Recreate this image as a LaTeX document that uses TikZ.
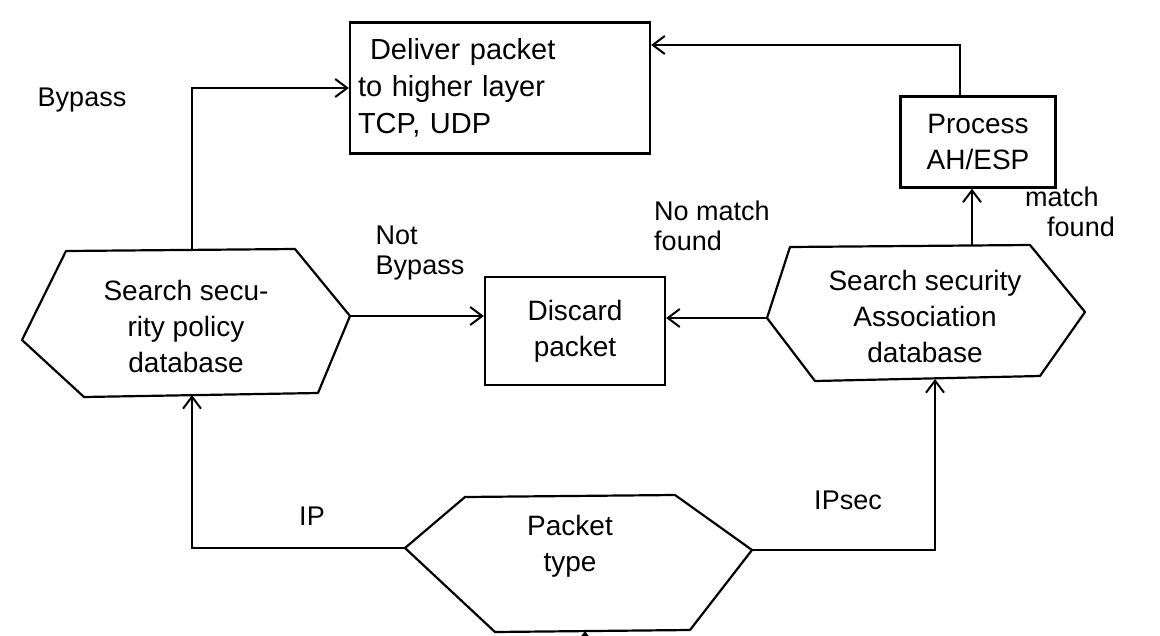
\documentclass[tikz,border=0pt]{standalone}
\usepackage{fontspec}
\setmainfont{Liberation Sans}
\usetikzlibrary{arrows.meta,calc}
\tikzset{
  box/.style={draw, rectangle, align=left, inner sep=6pt},
  hexline/.style={draw, line join=round},
  txt/.style={align=center, font=\fontsize{28}{36}\selectfont},
  lbl/.style={align=left, font=\fontsize{27}{30}\selectfont},
  conn/.style={-{Straight Barb[length=12pt,width=18pt,line width=2pt]}},
}
\begin{document}
\begin{tikzpicture}[x=1pt,y=-1pt,line width=2.2pt]
\useasboundingbox (0,0) rectangle (1160,635);

% rectangular boxes
\node[box, minimum width=300pt, minimum height=131pt, text width=284pt, font=\fontsize{29}{37}\selectfont] (deliver) at (500,88) {\hspace*{12pt}Deliver packet\\to higher layer\\TCP, UDP};
\node[box, minimum width=155pt, minimum height=91pt, txt] (process) at (978,142) {Process\\AH/ESP};
\node[box, minimum width=180pt, minimum height=108pt, txt] (discard) at (575,331) {Discard\\packet};

% hexagon: search security policy database
\coordinate (spdL) at (22,340);
\coordinate (spdTL) at (66,251);
\coordinate (spdTR) at (295,249);
\coordinate (spdR) at (350,316);
\coordinate (spdBR) at (318,393);
\coordinate (spdBL) at (84,397);
\draw[hexline] (spdL) -- (spdTL) -- (spdTR) -- (spdR) -- (spdBR) -- (spdBL) -- cycle;
\node[txt] (spd) at (186,326) {Search secu-\\rity policy\\database};
\coordinate (spdT) at (192,250);
\coordinate (spdB) at (192,395);

% hexagon: search security association database
\coordinate (saL) at (767,318);
\coordinate (saTL) at (790,247);
\coordinate (saTR) at (1030,245);
\coordinate (saR) at (1085,312);
\coordinate (saBR) at (1040,376);
\coordinate (saBL) at (815,381);
\draw[hexline] (saL) -- (saTL) -- (saTR) -- (saR) -- (saBR) -- (saBL) -- cycle;
\node[txt] (sa) at (925,316) {Search security\\Association\\database};
\coordinate (saT) at (972,246);
\coordinate (saB) at (935,379);

% hexagon: packet type
\coordinate (ptL) at (405,548);
\coordinate (ptTL) at (465,497);
\coordinate (ptTR) at (675,495);
\coordinate (ptR) at (752,550);
\coordinate (ptBR) at (690,630);
\coordinate (ptBL) at (495,632);
\draw[hexline] (ptL) -- (ptTL) -- (ptTR) -- (ptR) -- (ptBR) -- (ptBL) -- cycle;
\node[txt] (pt) at (570,546) {Packet\\type};
\coordinate (ptB) at (585,631);
\coordinate (below) at (585,680);

% connectors
\draw[conn] (spdT) |- (deliver.west);
\draw[conn] ([xshift=-18pt]process.north) |- (deliver.east |- 0,45);
\draw[conn] (saT) -- (saT |- process.south);
\draw[conn] (spdR) -- (discard.west |- spdR);
\draw[conn] (saL) -- (discard.east |- saL);
\draw[conn] (ptL) -| (spdB);
\draw[conn] (ptR) -| (saB);
\draw[conn] (below) -- (ptB);

% labels
\node[lbl] (lbypass) at (82,100) {Bypass};
\node[lbl] (lnotbypass) at (420,253) {Not\\Bypass};
\node[lbl] (lnomatch) at (712,226) {No match\\found};
\node[lbl] (lmatch) at (1070,212) {match\\\hspace*{22pt}found};
\node[lbl] (lip) at (312,516) {IP};
\node[lbl] (lipsec) at (848,500) {IPsec};
\end{tikzpicture}
\end{document}
